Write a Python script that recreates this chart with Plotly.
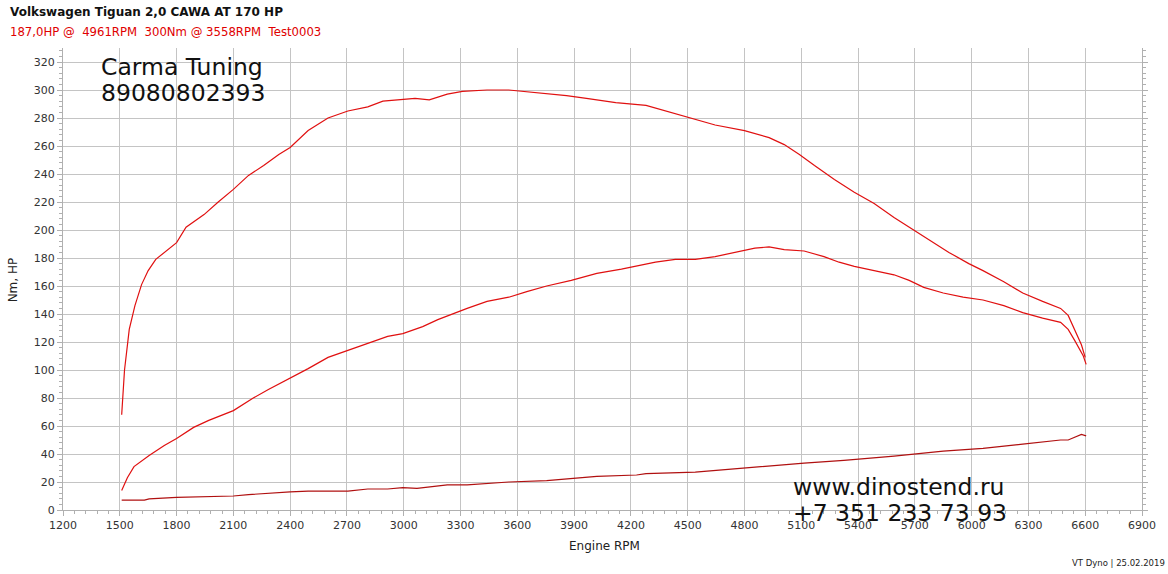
import plotly.graph_objects as go

rpm_tq = [1510, 1525, 1550, 1580, 1615, 1650, 1690, 1800, 1850, 1945, 2020, 2100, 2180, 2260, 2340, 2400,
          2495, 2600, 2705, 2810, 2890, 2995, 3060, 3135, 3230, 3310, 3440, 3555, 3700, 3860, 3965, 4120,
          4280, 4410, 4540, 4645, 4800, 4930, 5010, 5090, 5170, 5275, 5380, 5485, 5590, 5695, 5800, 5880,
          5985, 6060, 6170, 6270, 6375, 6470, 6510, 6545, 6580, 6600]
torque = [68, 100, 129, 146, 161, 171, 179, 191, 202, 211, 220, 229, 239, 246, 254, 259,
          271, 280, 285, 288, 292, 293, 294, 293, 297, 299, 300, 300, 298, 296, 294, 291,
          289, 284, 279, 275, 271, 266, 261, 254, 246, 236, 227, 219, 209, 200, 191, 184,
          176, 171, 163, 155, 149, 144, 139, 129, 118, 109]

rpm_hp = [1510, 1540, 1575, 1655, 1735, 1800, 1890, 1970, 2100, 2205, 2285, 2400, 2495, 2600, 2705, 2810,
          2915, 2995, 3100, 3180, 3255, 3335, 3440, 3555, 3650, 3755, 3885, 4020, 4150, 4230, 4330, 4435,
          4540, 4645, 4750, 4855, 4930, 5010, 5115, 5220, 5300, 5380, 5485, 5590, 5670, 5747, 5850, 5955,
          6060, 6170, 6270, 6375, 6470, 6510, 6545, 6590, 6605]
power = [14, 23, 31, 39, 46, 51, 59, 64, 71, 80, 86, 94, 101, 109, 114, 119,
         124, 126, 131, 136, 140, 144, 149, 152, 156, 160, 164, 169, 172, 174, 177, 179,
         179, 181, 184, 187, 188, 186, 185, 181, 177, 174, 171, 168, 164, 159, 155, 152,
         150, 146, 141, 137, 134, 129, 121, 110, 104]

rpm_loss = [1510, 1630, 1655, 1800, 2100, 2180, 2400, 2495, 2705, 2810, 2915, 2995, 3070, 3125, 3230, 3335,
            3440, 3555, 3755, 3835, 4020, 4230, 4280, 4540, 4800, 5010, 5115, 5325, 5590, 5850, 6060, 6270,
            6470, 6510, 6545, 6580, 6605]
loss = [7, 7, 8, 9, 10, 11, 13, 13.5, 13.5, 15, 15, 16, 15.5, 16.5, 18, 18,
        19, 20, 21, 22, 24, 25, 26, 27, 30, 32, 33.5, 35.5, 38.5, 42, 44, 47,
        50, 50, 52, 54, 53]

x_ticks = list(range(1200, 6901, 300))
y_ticks = list(range(0, 321, 20))

title_text = "Volkswagen Tiguan 2,0 CAWA AT 170 HP"
subtitle_text = "187,0HP @  4961RPM  300Nm @ 3558RPM  Test0003"

RED = "#e01010"
DARK = "#b01010"
FONT = "Verdana, DejaVu Sans, sans-serif"

fig = go.Figure()
fig.add_trace(go.Scatter(x=rpm_tq, y=torque, mode="lines", line=dict(color=RED, width=1.2), name="Nm"))
fig.add_trace(go.Scatter(x=rpm_hp, y=power, mode="lines", line=dict(color=RED, width=1.2), name="HP"))
fig.add_trace(go.Scatter(x=rpm_loss, y=loss, mode="lines", line=dict(color=DARK, width=1.2), name="Loss"))

axis_common = dict(showgrid=True, gridcolor="#c4c4c4", gridwidth=1, showline=True, linecolor="#b0b0b0",
                   linewidth=1, ticks="outside", ticklen=5, tickcolor="#b0b0b0", zeroline=False,
                   tickfont=dict(family=FONT, size=11, color="#333333"))

L, R, T, B = 63, 18, 48, 64
W, H = 1168 - L - R, 574 - T - B

fig.update_layout(
    width=1168, height=574,
    paper_bgcolor="white", plot_bgcolor="white",
    margin=dict(l=L, r=R, t=T, b=B),
    showlegend=False,
    font=dict(family=FONT, size=11, color="#222222"),
    xaxis=dict(range=[1200, 6900], tickvals=x_ticks, ticktext=[str(v) for v in x_ticks],
               minor=dict(dtick=60, ticks="outside", ticklen=3, tickcolor="#b0b0b0", showgrid=False),
               **axis_common),
    yaxis=dict(range=[0, 330], tickvals=y_ticks, ticktext=[str(v) for v in y_ticks], mirror="ticks",
               minor=dict(dtick=4, ticks="outside", ticklen=3, tickcolor="#b0b0b0", showgrid=False),
               **axis_common),
)

anns = [
    dict(text="<b>" + title_text + "</b>", x=8, y=12, font=dict(size=12, color="#111111")),
    dict(text=subtitle_text, x=8, y=32, font=dict(size=11.7, color="#e00000")),
    dict(text="Engine RPM", x=571, y=546, font=dict(size=12, color="#222222")),
    dict(text="Carma Tuning", x=99, y=67, font=dict(size=23.5, color="#111111")),
    dict(text="89080802393", x=99, y=93, font=dict(size=23.5, color="#111111")),
    dict(text="www.dinostend.ru", x=796, y=487, font=dict(size=23.5, color="#111111")),
    dict(text="+7 351 233 73 93", x=796, y=513, font=dict(size=23.5, color="#111111")),
]
for a in anns:
    fig.add_annotation(text=a["text"], x=(a["x"] - L) / W, y=(574 - B - a["y"]) / H,
                       xref="paper", yref="paper", xanchor="left", yanchor="middle",
                       showarrow=False, font=dict(family=FONT, **a["font"]))
fig.add_annotation(text="VT Dyno | 25.02.2019", x=(1175 - L) / W, y=(574 - B - 563) / H,
                   xref="paper", yref="paper", xanchor="right", yanchor="middle", showarrow=False,
                   font=dict(family=FONT, size=8.5, color="#222222"))
fig.add_annotation(text="Nm, HP", x=(13 - L) / W, y=(574 - B - 280) / H, xref="paper", yref="paper",
                   textangle=-90, showarrow=False, xanchor="center", yanchor="middle",
                   font=dict(family=FONT, size=12, color="#222222"))

fig.write_html("out.html", config={"displayModeBar": False},
               post_script="document.body.style.margin='0';document.body.style.padding='0';")
